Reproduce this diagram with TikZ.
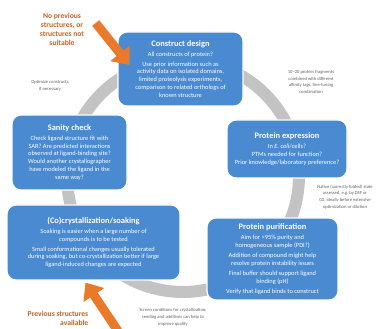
\documentclass[tikz,border=0pt]{standalone}
\usepackage{fontspec}
\setmainfont{Carlito}
\usetikzlibrary{arrows.meta}
\definecolor{stageblue}{HTML}{4A8AD0}
\definecolor{ringgray}{HTML}{C3C3C3}
\definecolor{entryorange}{HTML}{EA7A2A}
\definecolor{labelorange}{HTML}{C5621E}
\definecolor{notegray}{HTML}{606060}
\tikzstyle{stage}=[rounded corners=9, fill=stageblue, draw=white, line width=1.2, text=white,
                   align=center, inner sep=2, font=\fontsize{6.4}{7.9}\selectfont]
\tikzstyle{note}=[notegray, align=center, font=\fontsize{4.6}{6.8}\selectfont]
\tikzstyle{entry label}=[labelorange, align=center, font=\fontsize{7.6}{9}\selectfont\bfseries]
\tikzstyle{entry}=[line width=9, entryorange, -{Triangle[length=15pt, width=24pt]}]
\tikzstyle{cycle ring}=[line width=12, ringgray]
\newcommand{\stitle}[1]{{\fontsize{8.4}{10}\selectfont\bfseries #1}}

\begin{document}
\begin{tikzpicture}[x=1pt, y=-1pt]
  \useasboundingbox (0, 0) rectangle (389, 329);

  % CYCLE
  \draw[cycle ring] (183, 176) circle (116);

  % STAGES
  \node[stage, minimum width=125, minimum height=74] (construct) at (180.5, 69)
    {\stitle{Construct design}\\[2pt]
     All constructs of protein?\\[2pt]
     Use prior information such as\\
     activity data on isolated domains,\\
     limited proteolysis experiments,\\
     comparison to related orthologs of\\
     known structure};
  \node[stage, minimum width=120, minimum height=58] (expression) at (287, 149)
    {\stitle{Protein expression}\\[2pt]
     In \textit{E. coli}/cells?\\
     PTMs needed for function?\\
     Prior knowledge/laboratory preference?};
  \node[stage, minimum width=131, minimum height=82] (purification) at (272.5, 259)
    {\stitle{Protein purification}\\[2pt]
     Aim for >95\% purity and\\
     homogeneous sample (PDI?)\\[2pt]
     Addition of compound might help\\
     resolve protein instability issues\\[2pt]
     Final buffer should support ligand\\
     binding (pH)\\[2pt]
     Verify that ligand binds to construct};
  \node[stage, minimum width=173, minimum height=75] (cocryst) at (93.5, 242.5)
    {\stitle{(Co)crystallization/soaking}\\[2pt]
     Soaking is easier when a large number of\\
     compounds is to be tested\\[2pt]
     Small conformational changes usually tolerated\\
     during soaking, but co-crystallization better if large\\
     ligand-induced changes are expected};
  \node[stage, minimum width=115, minimum height=75] (sanity) at (69.5, 152.5)
    {\stitle{Sanity check}\\[2pt]
     Check ligand structure fit with\\
     SAR? Are predicted interactions\\
     observed at ligand-binding site?\\
     Would another crystallographer\\
     have modeled the ligand in the\\
     same way?};

  % NOTES
  \node[note] (optimize) at (50, 86) {Optimize constructs\\if necessary};
  \node[note] (fragments) at (311, 82)
    {10--20 protein fragments\\combined with different\\affinity tags, fine-tuning\\combination};
  \node[note] (native) at (345, 197)
    {Native (correctly folded) state\\assessed, e.g.\ by DSF or\\CD, ideally before extensive\\optimization or dilution};
  \node[note] (screen) at (173, 317)
    {Screen conditions for crystallization;\\seeding and additives can help to\\improve quality};

  % ENTRY POINTS
  \node[entry label] (no structures) at (62, 29)
    {No previous\\structures, or\\structures not\\suitable};
  \node[entry label, align=right] (structures) at (58, 318)
    {Previous structures\\available};
  \coordinate (below) at (118, 331);
  \draw[entry] ([xshift=8, yshift=6]no structures.east) -- ([xshift=12, yshift=4]construct.west);
  \draw[entry] (below) -- ([xshift=-8, yshift=-2]cocryst.south);
\end{tikzpicture}
\end{document}
